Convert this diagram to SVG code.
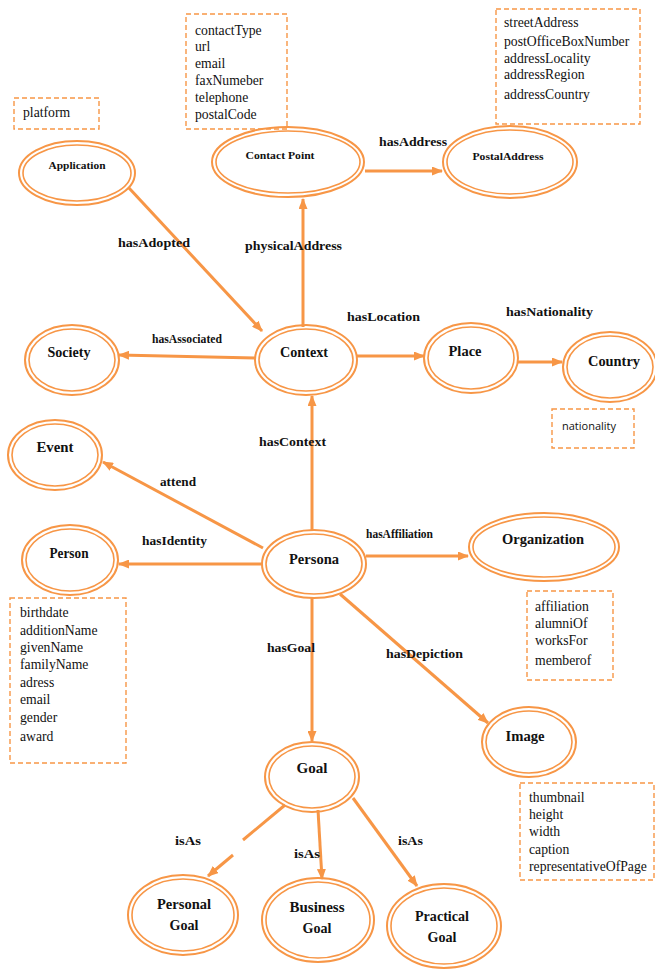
<svg xmlns="http://www.w3.org/2000/svg" width="655" height="973" viewBox="0 0 655 973">
<style>
.o{fill:none;stroke:#F79646;stroke-width:2}
.i{fill:#fff;stroke:#F79646;stroke-width:1.6}
.e{fill:none;stroke:#F79646;stroke-width:3;marker-end:url(#ah)}
.b{fill:none;stroke:#F79646;stroke-width:1.4;stroke-dasharray:5,3}
.n{font-family:"Liberation Serif",serif;font-weight:bold;font-size:14px;fill:#111;text-anchor:middle}
.s{font-family:"Liberation Serif",serif;font-weight:bold;font-size:11px;fill:#111;text-anchor:middle}
.l{font-family:"Liberation Serif",serif;font-weight:bold;font-size:13px;fill:#111}
.p{font-family:"Liberation Serif",serif;font-size:13.7px;fill:#111}
.q{font-family:"Open Sans",sans-serif;font-size:11px;fill:#111}
</style>
<defs>
<marker id="ah" markerUnits="userSpaceOnUse" markerWidth="11" markerHeight="9" refX="10" refY="4.5" orient="auto">
<path d="M0,0 L11,4.5 L0,9 z" fill="#F79646"/>
</marker>
</defs>
<g id="connectors">
<path class="e" d="M129,188 L262,331"/>
<path class="e" d="M303,327 L303,199"/>
<path class="e" d="M365,171 L442,171"/>
<path class="e" d="M255,358 L119,355"/>
<path class="e" d="M357,356 L424,356"/>
<path class="e" d="M518,362 L562,362"/>
<path class="e" d="M312,530 L312,396"/>
<path class="e" d="M263,548 L103,462"/>
<path class="e" d="M262,564 L119,564"/>
<path class="e" d="M366,556 L468,556"/>
<path class="e" d="M340,594 L488,723"/>
<path class="e" d="M312,598 L312,741"/>
<path fill="none" stroke="#F79646" stroke-width="3" d="M285,805 L243,840"/>
<path class="e" d="M233,855 L208,876"/>
<path class="e" d="M318,810 L322,879"/>
<path class="e" d="M353,798 L417,886"/>
<text class="l" x="118" y="247" textLength="72" lengthAdjust="spacingAndGlyphs">hasAdopted</text>
<text class="l" x="245" y="250" textLength="97" lengthAdjust="spacingAndGlyphs">physicalAddress</text>
<text class="l" x="379" y="146" textLength="68" lengthAdjust="spacingAndGlyphs">hasAddress</text>
<text class="l" x="152" y="343" font-size="11" textLength="70" lengthAdjust="spacingAndGlyphs">hasAssociated</text>
<text class="l" x="347" y="321" textLength="73" lengthAdjust="spacingAndGlyphs">hasLocation</text>
<text class="l" x="506" y="316" textLength="87" lengthAdjust="spacingAndGlyphs">hasNationality</text>
<text class="l" x="259" y="446" textLength="67" lengthAdjust="spacingAndGlyphs">hasContext</text>
<text class="l" x="160" y="486" textLength="36" lengthAdjust="spacingAndGlyphs">attend</text>
<text class="l" x="142" y="545" textLength="65" lengthAdjust="spacingAndGlyphs">hasIdentity</text>
<text class="l" x="366" y="538" font-size="11" textLength="67" lengthAdjust="spacingAndGlyphs">hasAffiliation</text>
<text class="l" x="267" y="652" textLength="48" lengthAdjust="spacingAndGlyphs">hasGoal</text>
<text class="l" x="386" y="658" textLength="77" lengthAdjust="spacingAndGlyphs">hasDepiction</text>
<text class="l" x="175" y="845" textLength="26" lengthAdjust="spacingAndGlyphs">isAs</text>
<text class="l" x="294" y="858" textLength="26" lengthAdjust="spacingAndGlyphs">isAs</text>
<text class="l" x="398" y="845" textLength="25" lengthAdjust="spacingAndGlyphs">isAs</text>
</g>
<g id="application">
<ellipse class="o" cx="77" cy="173" rx="58" ry="32"/><ellipse class="i" cx="77" cy="173" rx="54" ry="28"/>
<text class="s" x="77" y="169" textLength="57" lengthAdjust="spacingAndGlyphs">Application</text>
</g>
<g id="contact-point">
<ellipse class="o" cx="288" cy="162" rx="76" ry="35"/><ellipse class="i" cx="288" cy="162" rx="72" ry="31"/>
<text class="s" x="280" y="159" textLength="69" lengthAdjust="spacingAndGlyphs">Contact Point</text>
</g>
<g id="postal-address">
<ellipse class="o" cx="510" cy="162" rx="67" ry="36"/><ellipse class="i" cx="510" cy="162" rx="63" ry="32"/>
<text class="s" x="508" y="160" textLength="71" lengthAdjust="spacingAndGlyphs">PostalAddress</text>
</g>
<g id="context">
<ellipse class="o" cx="306" cy="360" rx="51" ry="35"/><ellipse class="i" cx="306" cy="360" rx="47" ry="31"/>
<text class="n" x="304" y="357" textLength="48" lengthAdjust="spacingAndGlyphs">Context</text>
</g>
<g id="society">
<ellipse class="o" cx="72" cy="360" rx="47" ry="35"/><ellipse class="i" cx="72" cy="360" rx="43" ry="31"/>
<text class="n" x="69" y="357" textLength="43" lengthAdjust="spacingAndGlyphs">Society</text>
</g>
<g id="place">
<ellipse class="o" cx="471" cy="358" rx="47" ry="35"/><ellipse class="i" cx="471" cy="358" rx="43" ry="31"/>
<text class="n" x="465" y="356" textLength="33" lengthAdjust="spacingAndGlyphs">Place</text>
</g>
<g id="country">
<ellipse class="o" cx="610" cy="367" rx="47" ry="35"/><ellipse class="i" cx="610" cy="367" rx="43" ry="31"/>
<text class="n" x="614" y="366" textLength="52" lengthAdjust="spacingAndGlyphs">Country</text>
</g>
<g id="event">
<ellipse class="o" cx="55" cy="455" rx="47" ry="35"/><ellipse class="i" cx="55" cy="455" rx="43" ry="31"/>
<text class="n" x="55" y="452" textLength="37" lengthAdjust="spacingAndGlyphs">Event</text>
</g>
<g id="person">
<ellipse class="o" cx="70" cy="560" rx="48" ry="35"/><ellipse class="i" cx="70" cy="560" rx="44" ry="31"/>
<text class="n" x="69" y="558" textLength="39" lengthAdjust="spacingAndGlyphs">Person</text>
</g>
<g id="persona">
<ellipse class="o" cx="314" cy="564" rx="52" ry="34"/><ellipse class="i" cx="314" cy="564" rx="48" ry="30"/>
<text class="n" x="314" y="564" textLength="50" lengthAdjust="spacingAndGlyphs">Persona</text>
</g>
<g id="organization">
<ellipse class="o" cx="544" cy="547" rx="75" ry="34"/><ellipse class="i" cx="544" cy="547" rx="71" ry="30"/>
<text class="n" x="543" y="544" textLength="82" lengthAdjust="spacingAndGlyphs">Organization</text>
</g>
<g id="image">
<ellipse class="o" cx="529" cy="742" rx="47" ry="35"/><ellipse class="i" cx="529" cy="742" rx="43" ry="31"/>
<text class="n" x="525" y="741" textLength="39" lengthAdjust="spacingAndGlyphs">Image</text>
</g>
<g id="goal">
<ellipse class="o" cx="312" cy="777" rx="47" ry="35"/><ellipse class="i" cx="312" cy="777" rx="43" ry="31"/>
<text class="n" x="312" y="773" textLength="31" lengthAdjust="spacingAndGlyphs">Goal</text>
</g>
<g id="personal-goal">
<ellipse class="o" cx="183" cy="915" rx="55" ry="40"/><ellipse class="i" cx="183" cy="915" rx="51" ry="36"/>
<text class="n" x="184" y="909" textLength="54" lengthAdjust="spacingAndGlyphs">Personal</text>
<text class="n" x="184" y="930" textLength="29" lengthAdjust="spacingAndGlyphs">Goal</text>
</g>
<g id="business-goal">
<ellipse class="o" cx="318" cy="920" rx="56" ry="42"/><ellipse class="i" cx="318" cy="920" rx="52" ry="38"/>
<text class="n" x="317" y="912" textLength="55" lengthAdjust="spacingAndGlyphs">Business</text>
<text class="n" x="317" y="933" textLength="29" lengthAdjust="spacingAndGlyphs">Goal</text>
</g>
<g id="practical-goal">
<ellipse class="o" cx="444" cy="926" rx="57" ry="42"/><ellipse class="i" cx="444" cy="926" rx="53" ry="38"/>
<text class="n" x="442" y="921" textLength="54" lengthAdjust="spacingAndGlyphs">Practical</text>
<text class="n" x="442" y="942" textLength="29" lengthAdjust="spacingAndGlyphs">Goal</text>
</g>
<g id="box-platform">
<rect class="b" x="14" y="98" width="85" height="31"/>
<text class="p" x="23" y="117">platform</text>
</g>
<g id="box-contact">
<rect class="b" x="186" y="14" width="101" height="115"/>
<text class="p" x="195" y="35">contactType</text>
<text class="p" x="195" y="51">url</text>
<text class="p" x="195" y="68">email</text>
<text class="p" x="195" y="85">faxNumeber</text>
<text class="p" x="195" y="102">telephone</text>
<text class="p" x="195" y="119">postalCode</text>
</g>
<g id="box-address">
<rect class="b" x="496" y="9" width="144" height="115"/>
<text class="p" x="504" y="27">streetAddress</text>
<text class="p" x="504" y="46">postOfficeBoxNumber</text>
<text class="p" x="504" y="63">addressLocality</text>
<text class="p" x="504" y="79">addressRegion</text>
<text class="p" x="504" y="99">addressCountry</text>
</g>
<g id="box-nationality">
<rect class="b" x="552" y="409" width="82" height="39"/>
<text class="q" x="562" y="430">nationality</text>
</g>
<g id="box-person">
<rect class="b" x="10" y="598" width="116" height="165"/>
<text class="p" x="20" y="617">birthdate</text>
<text class="p" x="20" y="635">additionName</text>
<text class="p" x="20" y="652">givenName</text>
<text class="p" x="20" y="669">familyName</text>
<text class="p" x="20" y="687">adress</text>
<text class="p" x="20" y="704">email</text>
<text class="p" x="20" y="722">gender</text>
<text class="p" x="20" y="741">award</text>
</g>
<g id="box-organization">
<rect class="b" x="527" y="591" width="86" height="89"/>
<text class="p" x="535" y="611">affiliation</text>
<text class="p" x="535" y="628">alumniOf</text>
<text class="p" x="535" y="645">worksFor</text>
<text class="p" x="535" y="665">memberof</text>
</g>
<g id="box-image">
<rect class="b" x="520" y="783" width="134" height="97"/>
<text class="p" x="529" y="802">thumbnail</text>
<text class="p" x="529" y="819">height</text>
<text class="p" x="529" y="836">width</text>
<text class="p" x="529" y="854">caption</text>
<text class="p" x="529" y="871">representativeOfPage</text>
</g>
</svg>
